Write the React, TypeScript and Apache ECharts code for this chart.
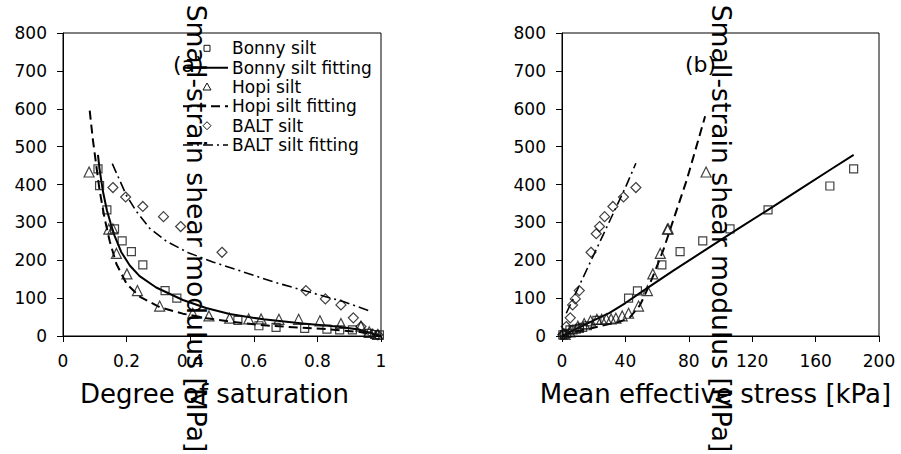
import React, { useEffect, useRef } from 'react';
import * as echarts from 'echarts';

const FONT = 'DejaVu Sans';

const seriesNames = [
  'Bonny silt',
  'Bonny silt fitting',
  'Hopi silt',
  'Hopi silt fitting',
  'BALT silt',
  'BALT silt fitting',
];

// Panel (a): degree of saturation vs small-strain shear modulus [MPa]
const bonnySat = [
  [0.11, 441], [0.115, 397], [0.138, 333], [0.162, 283], [0.186, 251], [0.215, 223],
  [0.251, 188], [0.321, 120], [0.358, 100], [0.55, 41], [0.616, 27], [0.67, 23],
  [0.76, 20], [0.83, 18], [0.87, 16], [0.91, 16], [0.96, 7], [0.98, 4], [0.995, 3],
];
const bonnySatFit = [
  [0.11, 478], [0.115, 440], [0.126, 380], [0.138, 332], [0.15, 297], [0.162, 265],
  [0.183, 222], [0.21, 186], [0.241, 158], [0.293, 128], [0.377, 95], [0.45, 74],
  [0.524, 58], [0.63, 44], [0.754, 33], [0.86, 25], [0.93, 17], [1.0, 0],
];
const hopiSat = [
  [0.082, 433], [0.144, 282], [0.157, 283], [0.168, 218], [0.201, 164], [0.234, 120],
  [0.304, 79], [0.408, 60], [0.459, 53], [0.524, 47], [0.584, 45], [0.623, 45],
  [0.679, 44], [0.741, 44], [0.808, 40], [0.874, 33], [0.937, 26], [0.963, 11], [0.99, 4],
];
const hopiSatFit = [
  [0.084, 595], [0.094, 518], [0.105, 448], [0.115, 385], [0.131, 310], [0.147, 250],
  [0.168, 190], [0.2, 138], [0.241, 104], [0.304, 76], [0.377, 59], [0.452, 47],
  [0.545, 36], [0.62, 29], [0.743, 22], [0.83, 18], [0.93, 11], [1.0, 0],
];
const baltSat = [
  [0.157, 392], [0.197, 367], [0.251, 342], [0.316, 315], [0.37, 289], [0.5, 221],
  [0.764, 120], [0.825, 98], [0.874, 82], [0.913, 48], [0.937, 25], [0.974, 5], [0.99, 3],
];
const baltSatFit = [
  [0.155, 455], [0.173, 421], [0.199, 372], [0.23, 330], [0.272, 285], [0.325, 250],
  [0.394, 220], [0.473, 195], [0.557, 172], [0.661, 143], [0.766, 118], [0.881, 91],
  [0.971, 64],
];

// Panel (b): mean effective stress [kPa] vs small-strain shear modulus [MPa]
const bonnyStress = [
  [184, 441], [169, 396], [130, 333], [106, 283], [88.8, 251], [74.5, 223], [63, 188],
  [47.6, 119], [42, 100], [22, 41], [16, 27], [13, 23], [11, 20], [9, 18], [7, 16],
  [5, 16], [3, 7], [1.5, 4], [0.5, 3],
];
const bonnyStressFit = [
  [0, 0], [5, 11], [10, 21], [20, 41], [30, 61], [40, 87], [50, 116], [70, 172],
  [90, 226], [110, 280], [130, 333], [150, 387], [170, 441], [184, 478],
];
const hopiStress = [
  [90.9, 433], [67, 283], [66.5, 282], [62, 218], [57.3, 164], [53.9, 120], [48.3, 79],
  [42, 60], [38, 53], [34, 47], [31, 45], [28, 45], [25, 44], [22, 44], [18, 40],
  [14, 33], [10, 26], [5, 11], [2, 4],
];
const hopiStressFit = [
  [0, 0], [7.3, 11], [17.8, 20], [28.3, 30], [36.7, 38], [43, 50], [49.3, 82], [55, 133],
  [59.8, 183], [64, 228], [70.3, 307], [78.7, 412], [90.3, 580],
];
const baltStress = [
  [46.6, 392], [38.8, 367], [32.1, 342], [26.9, 315], [23.7, 289], [21.6, 270],
  [18.3, 221], [10.9, 120], [8.4, 98], [6.7, 82], [5.2, 48], [2.7, 25], [1.2, 5], [0.5, 3],
];
const baltStressFit = [
  [2.7, 60], [10, 125], [20, 214], [30, 303], [40, 392], [46.6, 456],
];

const satTicks = { min: 0, max: 1, interval: 0.2 };
const stressTicks = { min: 0, max: 200, interval: 40 };
const modulusTicks = { min: 0, max: 800, interval: 100 };

const xTitles = ['Degree of saturation', 'Mean effective stress [kPa]'];
const yTitle = 'Small-strain shear modulus [MPa]';
const panelLabels = ['(a)', '(b)'];

const markerStyle = { color: 'rgba(255,255,255,0)', borderColor: '#111', borderWidth: 1.2 };
const BALT_DASH = [10, 4, 2, 4];
const HOPI_DASH = [9, 5];

function scatter(name: string, data: number[][], symbol: string, size: number, idx: number) {
  return {
    type: 'scatter',
    name,
    data,
    symbol,
    symbolSize: size,
    xAxisIndex: idx,
    yAxisIndex: idx,
    itemStyle: markerStyle,
    z: 3,
  };
}

function fit(name: string, data: number[][], type: any, width: number, idx: number) {
  return {
    type: 'line',
    name,
    data,
    xAxisIndex: idx,
    yAxisIndex: idx,
    symbol: 'none',
    showSymbol: false,
    smooth: false,
    lineStyle: { color: '#000', width, type },
    itemStyle: { color: '#000' },
    z: 2,
  };
}

function axisCommon() {
  return {
    type: 'value',
    axisLine: { show: true, onZero: false, lineStyle: { color: '#000', width: 1 } },
    axisTick: { show: true, inside: false, length: 6, lineStyle: { color: '#000', width: 1 } },
    axisLabel: { fontSize: 17, fontFamily: FONT, color: '#000', margin: 16 },
    splitLine: { show: false },
  };
}

function textEl(text: string, x: number, y: number, size: number, align: string, rotation = 0, z = 100) {
  return {
    type: 'text',
    x,
    y,
    rotation,
    z,
    style: {
      text,
      fontSize: size,
      fontFamily: FONT,
      fill: '#000',
      align,
      textAlign: align,
      verticalAlign: 'middle',
      textVerticalAlign: 'middle',
    },
  };
}

// Legend drawn as graphic elements (icons + real text)
function legendElements() {
  const y0 = 48.3;
  const step = 19.35;
  const textX = 232;
  const mx = 207;
  const lx1 = 183;
  const lx2 = 228;
  const els: any[] = [];
  seriesNames.forEach((name, i) => {
    const y = y0 + i * step;
    const stroke = { stroke: '#111', lineWidth: 1, fill: 'none' };
    if (i === 0) {
      els.push({ type: 'rect', z: 50, shape: { x: mx - 3, y: y - 3, width: 6, height: 6 }, style: stroke });
    } else if (i === 2) {
      els.push({ type: 'polygon', z: 50, shape: { points: [[mx, y - 4], [mx - 4, y + 3], [mx + 4, y + 3]] }, style: stroke });
    } else if (i === 4) {
      els.push({ type: 'polygon', z: 50, shape: { points: [[mx, y - 4], [mx + 4, y], [mx, y + 4], [mx - 4, y]] }, style: stroke });
    } else {
      const dash = i === 1 ? null : i === 3 ? HOPI_DASH : BALT_DASH;
      els.push({
        type: 'line',
        z: 50,
        shape: { x1: lx1, y1: y, x2: lx2, y2: y },
        style: { stroke: '#000', lineWidth: i === 5 ? 1.6 : 2, lineDash: dash },
      });
    }
    els.push(textEl(name, textX, y, 17, 'left', 0, 50));
  });
  return els;
}

export default function App() {
  const ref = useRef<HTMLDivElement>(null);
  useEffect(() => {
    if (!ref.current) return;
    const chart = echarts.init(ref.current, null, { renderer: 'svg' });
    const option: any = {
      animation: false,
      backgroundColor: '#ffffff',
      grid: [
        { left: 63, top: 33, width: 318, height: 303, show: true, borderColor: '#000', borderWidth: 1, backgroundColor: 'transparent' },
        { left: 562, top: 33, width: 317, height: 303, show: true, borderColor: '#000', borderWidth: 1, backgroundColor: 'transparent' },
      ],
      xAxis: [
        { ...axisCommon(), gridIndex: 0, ...satTicks },
        { ...axisCommon(), gridIndex: 1, ...stressTicks },
      ],
      yAxis: [
        { ...axisCommon(), gridIndex: 0, ...modulusTicks },
        { ...axisCommon(), gridIndex: 1, ...modulusTicks },
      ],
      series: [
        scatter(seriesNames[0], bonnySat, 'rect', 8, 0),
        fit(seriesNames[1], bonnySatFit, 'solid', 2, 0),
        scatter(seriesNames[2], hopiSat, 'triangle', 10, 0),
        fit(seriesNames[3], hopiSatFit, HOPI_DASH, 2, 0),
        scatter(seriesNames[4], baltSat, 'diamond', 10, 0),
        fit(seriesNames[5], baltSatFit, BALT_DASH, 1.6, 0),
        scatter(seriesNames[0], bonnyStress, 'rect', 8, 1),
        fit(seriesNames[1], bonnyStressFit, 'solid', 2, 1),
        scatter(seriesNames[2], hopiStress, 'triangle', 10, 1),
        fit(seriesNames[3], hopiStressFit, HOPI_DASH, 2, 1),
        scatter(seriesNames[4], baltStress, 'diamond', 10, 1),
        fit(seriesNames[5], baltStressFit, BALT_DASH, 1.6, 1),
      ],
      graphic: [
        ...legendElements(),
        textEl(xTitles[0], 214.5, 394, 26, 'center'),
        textEl(xTitles[1], 715.5, 394, 26, 'center'),
        textEl(yTitle, 196, 228.5, 26.6, 'center', -Math.PI / 2),
        textEl(yTitle, 721, 228.5, 26.6, 'center', -Math.PI / 2),
        textEl(panelLabels[0], 173, 64, 22, 'left'),
        textEl(panelLabels[1], 685, 64, 22, 'left'),
      ],
    };
    chart.setOption(option);
    return () => chart.dispose();
  }, []);
  return (
    <div
      ref={ref}
      style={{ position: 'absolute', left: 0, top: 0, width: 901, height: 454, background: '#fff' }}
    />
  );
}
